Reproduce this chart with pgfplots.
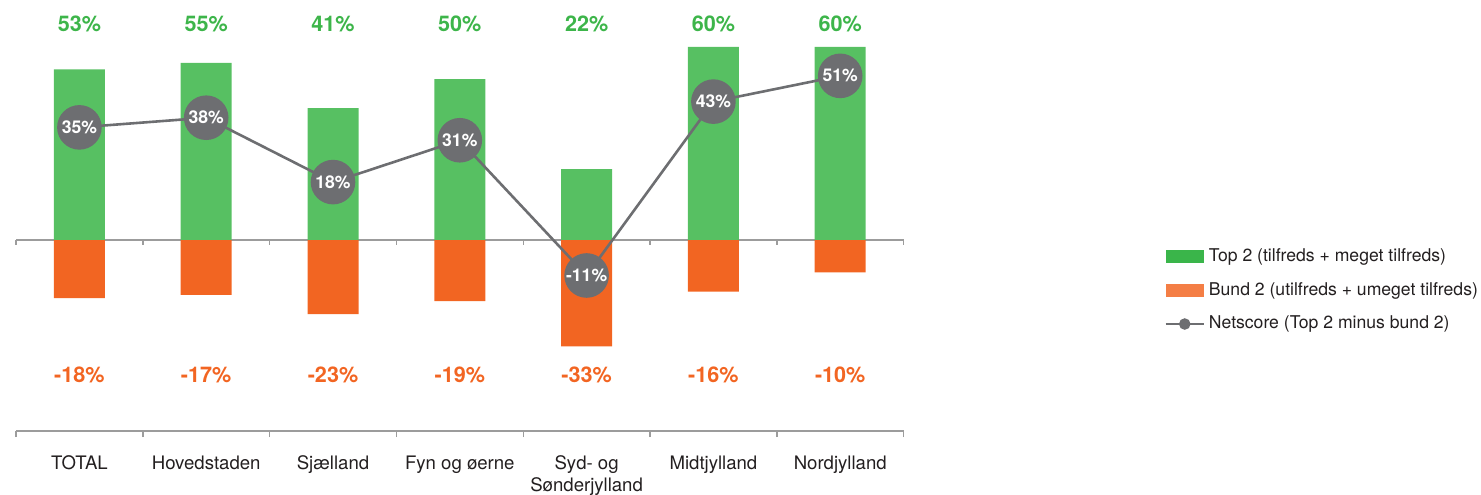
\documentclass[border=0pt]{standalone}
\usepackage{fontspec}
\setmainfont{TeX Gyre Heros}
\usepackage{pgfplots}
\pgfplotsset{compat=1.18}
\definecolor{barG}{HTML}{57C062}
\definecolor{barO}{HTML}{F26522}
\definecolor{labG}{HTML}{3DB54A}
\definecolor{labO}{HTML}{F26522}
\definecolor{legG}{HTML}{3AB54A}
\definecolor{legO}{HTML}{F47E45}
\definecolor{netgray}{HTML}{6D6E71}
\definecolor{axgray}{HTML}{9C9C9C}
\definecolor{labblack}{HTML}{231F20}
\begin{document}
\begin{tikzpicture}
\useasboundingbox (0,0) rectangle (740.5pt,-247pt);
\begin{axis}[
  at={(8pt,-215.5pt)}, anchor=south west,
  x=63.4pt, y=1.61pt,
  xmin=-0.5, xmax=6.5, ymin=-59.3, ymax=74.5,
  axis x line*=bottom, axis y line=none,
  x axis line style={-, draw=axgray, line width=0.7pt},
  xtick={0,...,6},
  xticklabels={TOTAL,Hovedstaden,Sjælland,Fyn og øerne,{Syd- og\\Sønderjylland},Midtjylland,Nordjylland},
  minor xtick={-0.5,0.5,...,6.5},
  major tick length=0pt, minor tick length=3pt, tick align=outside,
  minor tick style={draw=axgray, line width=0.7pt},
  xticklabel style={font=\fontsize{9.3}{11}\selectfont, align=center, text=labblack, anchor=north, yshift=-9pt},
  ytick=\empty,
  clip=false,
  legend style={at={(1.2935,0.327)}, anchor=west, draw=none, fill=none, inner sep=0pt,
    row sep=5pt, font=\fontsize{8.8}{10}\selectfont, text=labblack},
  legend cell align=left,
]
\draw[axgray, line width=0.7pt] (axis cs:-0.5,0) -- (axis cs:6.5,0);
\pgfplotsinvokeforeach{-0.5,0.5,1.5,2.5,3.5,4.5,5.5,6.5}{
  \draw[axgray, line width=0.7pt] (axis cs:#1,0) -- ++(0pt,-2.5pt);
}
\addplot[ybar, bar width=25.5pt, bar shift=0pt, fill=barG, draw=none,
  legend image code/.code={\fill[legG] (0pt,-3.3pt) rectangle (19pt,3.3pt);}]
  coordinates {(0,53) (1,55) (2,41) (3,50) (4,22) (5,60) (6,60)};
\addlegendentry{Top 2 (tilfreds + meget tilfreds)}
\addplot[ybar, bar width=25.5pt, bar shift=0pt, fill=barO, draw=none,
  legend image code/.code={\fill[legO] (0pt,-3.3pt) rectangle (19pt,3.3pt);}]
  coordinates {(0,-18) (1,-17) (2,-23) (3,-19) (4,-33) (5,-16) (6,-10)};
\addlegendentry{Bund 2 (utilfreds + umeget tilfreds)}
\addplot[netgray, line width=1.3pt, mark=*, mark size=10.5pt,
  mark options={fill=netgray, draw=none},
  nodes near coords, point meta=explicit symbolic,
  every node near coord/.append style={anchor=center, text=white, font=\bfseries\fontsize{8.8}{10}\selectfont},
  legend image code/.code={\draw[netgray, line width=1.2pt] (0pt,0pt) -- (19pt,0pt); \fill[netgray] (9.5pt,0pt) circle (2.2pt);}]
  coordinates {(0,35)[35\%] (1,38)[38\%] (2,18)[18\%] (3,31)[31\%] (4,-11)[-11\%] (5,43)[43\%] (6,51)[51\%]};
\addlegendentry{Netscore (Top 2 minus bund 2)}
\addplot[draw=none, mark=none, forget plot, nodes near coords, point meta=explicit symbolic,
  every node near coord/.append style={anchor=center, text=labG, font=\bfseries\fontsize{10.8}{12}\selectfont}]
  coordinates {(0,67.1)[53\%] (1,67.1)[55\%] (2,67.1)[41\%] (3,67.1)[50\%] (4,67.1)[22\%] (5,67.1)[60\%] (6,67.1)[60\%]};
\addplot[draw=none, mark=none, forget plot, nodes near coords, point meta=explicit symbolic,
  every node near coord/.append style={anchor=center, text=labO, font=\bfseries\fontsize{10.8}{12}\selectfont}]
  coordinates {(0,-41.9)[-18\%] (1,-41.9)[-17\%] (2,-41.9)[-23\%] (3,-41.9)[-19\%] (4,-41.9)[-33\%] (5,-41.9)[-16\%] (6,-41.9)[-10\%]};
\end{axis}
\end{tikzpicture}
\end{document}
